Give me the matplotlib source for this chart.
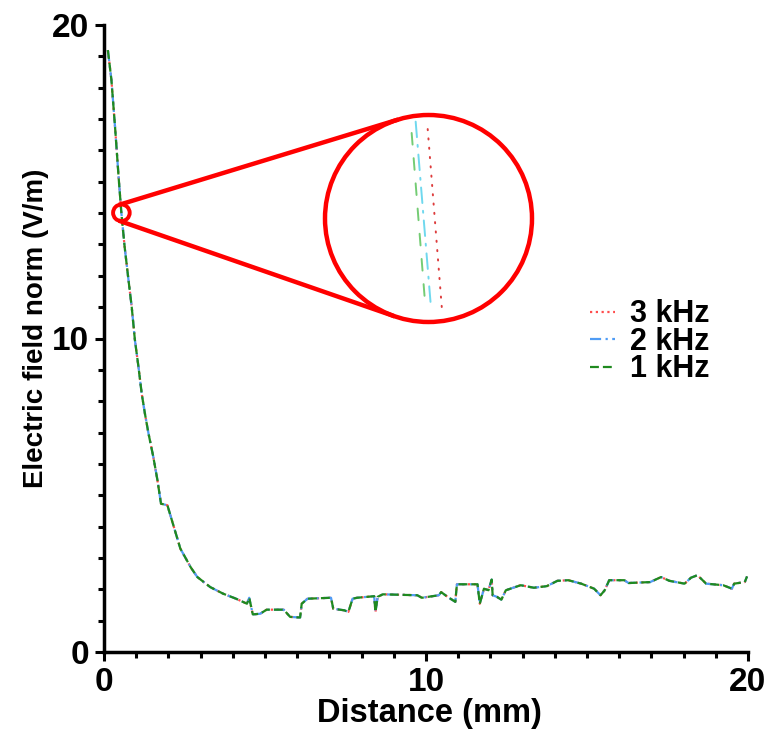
import numpy as np
import matplotlib
matplotlib.use("Agg")
import matplotlib.pyplot as plt
from matplotlib.patches import Circle

# ---------------- data ----------------
distance_mm = [0.12, 0.23, 0.35, 0.46, 0.54, 0.64, 0.76, 0.86, 0.96, 1.07,
               1.17, 1.27, 1.38, 1.53, 1.66, 1.77, 1.97, 2.03, 2.37, 2.70,
               2.90, 3.30, 3.70, 4.10, 4.44, 4.51, 4.62, 4.85, 5.05, 5.58,
               5.78, 6.09, 6.14, 6.32, 7.05, 7.12, 7.46, 7.59, 7.72, 7.86,
               8.39, 8.43, 8.50, 8.66, 9.73, 9.87, 10.40, 10.47, 10.67, 10.91,
               10.96, 11.60, 11.67, 11.80, 11.94, 12.04, 12.07, 12.20, 12.34, 12.48,
               12.94, 13.35, 13.75, 14.08, 14.42, 14.82, 15.22, 15.42, 15.55, 15.69,
               16.16, 16.29, 16.96, 17.30, 17.56, 18.03, 18.23, 18.43, 18.70, 19.23,
               19.50, 19.57, 19.90, 19.97]
field_norm = [19.20, 18.25, 16.65, 15.06, 14.00, 12.93, 11.87, 11.01, 9.95, 9.10,
              8.25, 7.61, 6.98, 6.23, 5.48, 4.73, 4.68, 4.47, 3.30, 2.69,
              2.39, 2.07, 1.86, 1.70, 1.54, 1.73, 1.20, 1.22, 1.35, 1.35,
              1.12, 1.10, 1.54, 1.70, 1.73, 1.38, 1.33, 1.28, 1.70, 1.73,
              1.78, 1.28, 1.76, 1.84, 1.81, 1.73, 1.81, 1.91, 1.76, 1.60,
              2.16, 2.16, 1.54, 2.02, 1.97, 2.31, 1.81, 1.76, 1.67, 1.97,
              2.13, 2.05, 2.10, 2.27, 2.29, 2.18, 2.02, 1.81, 1.97, 2.29,
              2.29, 2.20, 2.23, 2.39, 2.27, 2.18, 2.37, 2.45, 2.18, 2.13,
              2.02, 2.18, 2.23, 2.41]

series_labels = ["3 kHz", "2 kHz", "1 kHz"]
series_x = {"3 kHz": distance_mm, "2 kHz": distance_mm, "1 kHz": distance_mm}
series_y = {"3 kHz": field_norm, "2 kHz": field_norm, "1 kHz": field_norm}

# magnified view (inset) segments, one per series
inset_x = {"3 kHz": [0.538, 0.574], "2 kHz": [0.508, 0.546], "1 kHz": [0.498, 0.531]}
inset_y = {"3 kHz": [14.239, 13.771], "2 kHz": [14.258, 13.784], "1 kHz": [14.229, 13.800]}
zoom_center = (0.54, 14.01)
zoom_half = (0.258, 0.265)

x_ticks = [0, 10, 20]
y_ticks = [0, 10, 20]

# ---------------- styles ----------------
colors = {"3 kHz": "#ff4d4d", "2 kHz": "#4f9cf5", "1 kHz": "#1f8a1f"}
inset_colors = {"3 kHz": "#dd3c3c", "2 kHz": "#6fd8ee", "1 kHz": "#74cc74"}
styles = {"3 kHz": (0, (1, 1.6)), "2 kHz": (0, (5, 2, 1, 2)), "1 kHz": (0, (4, 1.8))}
inset_styles = {"3 kHz": (0, (0.6, 4.2)), "2 kHz": (0, (8, 4, 1, 4)), "1 kHz": (0, (6, 7))}

W, H = 766, 734
fig = plt.figure(figsize=(W / 100, H / 100), dpi=100)
font = "Liberation Sans"
plt.rcParams["font.family"] = [font, "DejaVu Sans"]
plt.rcParams["font.weight"] = "bold"

ax = fig.add_axes([104 / W, (H - 652) / H, 644 / W, 627 / H])
for lab in series_labels:
    ax.plot(series_x[lab], series_y[lab], color=colors[lab], ls=styles[lab],
            lw=1.6, label=lab)

ax.set_xlim(0, 20)
ax.set_ylim(0, 20)
ax.set_xticks(x_ticks)
ax.set_yticks(y_ticks)
ax.set_xticks(np.arange(0, 21, 1), minor=True)
ax.set_yticks(np.arange(0, 21, 1), minor=True)
for s in ["top", "right"]:
    ax.spines[s].set_visible(False)
for s in ["left", "bottom"]:
    ax.spines[s].set_linewidth(2.5)
    ax.spines[s].set_capstyle("projecting")
ax.tick_params(which="major", length=6.5, width=2.2, labelsize=24, pad=4)
ax.tick_params(which="minor", length=4, width=2.2)
for t in ax.get_xticklabels() + ax.get_yticklabels():
    t.set_fontweight("bold")

ax.set_xlabel("Distance (mm)", fontsize=23.5, fontweight="bold")
ax.set_ylabel("Electric field norm (V/m)", fontsize=20, fontweight="bold")
ax.xaxis.set_label_coords(0.505, -0.073)
ax.yaxis.set_label_coords(-0.086, 0.517)

leg = fig.legend(loc="upper left", bbox_to_anchor=(575 / W, 1 - 284 / H),
                 frameon=False, fontsize=22, handlelength=0.8,
                 handletextpad=0.5, labelspacing=-0.08, borderpad=0)
for t in leg.get_texts():
    t.set_fontweight("bold")

# ---------------- magnifier ----------------
big_c = np.array([428.5, H - 218.5])
big_r = 103.5
small_c = ax.transData.transform(zoom_center)
small_r = 8.3

ins = fig.add_axes([(big_c[0] - big_r) / W, (big_c[1] - big_r) / H, 2 * big_r / W, 2 * big_r / H])
ins.set_xlim(zoom_center[0] - zoom_half[0], zoom_center[0] + zoom_half[0])
ins.set_ylim(zoom_center[1] - zoom_half[1], zoom_center[1] + zoom_half[1])
ins.axis("off")
clip = Circle((0.5, 0.5), 0.5, transform=ins.transAxes, facecolor="none", edgecolor="none")
ins.add_patch(clip)
for lab in ["1 kHz", "2 kHz", "3 kHz"]:
    ln, = ins.plot(inset_x[lab], inset_y[lab], color=inset_colors[lab],
                   ls=inset_styles[lab], lw=1.4, dash_capstyle="round")
    ln.set_clip_path(clip)

ov = fig.add_axes([0, 0, 1, 1], zorder=10)
ov.set_xlim(0, W)
ov.set_ylim(0, H)
ov.axis("off")
ov.patch.set_alpha(0)

ov.add_patch(Circle(big_c, big_r, facecolor="none", edgecolor="#ff0000", lw=3.2))
ov.add_patch(Circle(small_c, small_r, facecolor="none", edgecolor="#ff0000", lw=2.8))

d = big_c - small_c
D = np.hypot(*d)
th = np.arctan2(d[1], d[0])
phi = np.arccos((big_r - small_r) / D)
for sgn in (1, -1):
    ang = th + sgn * phi
    n = np.array([np.cos(ang), np.sin(ang)])
    t1 = small_c - small_r * n
    t2 = big_c - big_r * n
    ov.plot([t1[0], t2[0]], [t1[1], t2[1]], color="#ff0000", lw=3.2,
            solid_capstyle="butt")

fig.savefig("out.png", dpi=100)
